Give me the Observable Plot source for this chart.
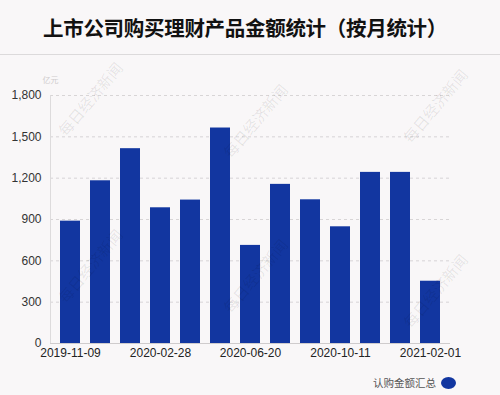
<!DOCTYPE html>
<html>
<head>
<meta charset="utf-8">
<script src="https://cdn.jsdelivr.net/npm/d3@7"></script>
<script src="https://cdn.jsdelivr.net/npm/@observablehq/plot@0.6"></script>
<style>
  html, body { margin: 0; padding: 0; background: #f9f7f8; }
  #wrap { position: relative; width: 500px; height: 395px; overflow: hidden; background: #f9f7f8; font-family: "Liberation Sans", Arial, sans-serif; }
  #title { height: 54px; border-bottom: 1px solid #dcdadb; box-sizing: content-box; text-align: center; font-family: "Noto Sans CJK SC", sans-serif; font-weight: bold; font-size: 20.5px; line-height: 54px; color: #111; letter-spacing: -0.3px; padding-right: 10px; }
  #legend { position: absolute; left: 0; top: 370px; width: 500px; height: 25px; }
  #legend .lbl { position: absolute; left: 373px; top: 4px; font-family: "Noto Sans CJK SC", sans-serif; font-size: 10.5px; color: #555; line-height: 18px; }
  #legend .sw { position: absolute; left: 441px; top: 7px; width: 15px; height: 12px; border-radius: 50%; background: #1236a0; }
  .wm { position: absolute; font-family: "Noto Sans CJK SC", sans-serif; font-size: 15px; color: rgba(0,0,0,0.09); transform: rotate(-50deg); transform-origin: center; white-space: nowrap; pointer-events: none; }
</style>
</head>
<body>
<div id="wrap">
  <div id="title">上市公司购买理财产品金额统计（按月统计）</div>
  <div id="chart"></div>
  <div id="legend"><span class="lbl">认购金额汇总</span><span class="sw"></span></div>
</div>
<script>
// Data (亿元)
const periods = ["2019-11-09", "", "", "2020-02-28", "", "", "2020-06-20", "", "", "2020-10-11", "", "", "2021-02-01"];
const amounts = [888, 1181, 1414, 985, 1041, 1564, 712, 1155, 1043, 847, 1242, 1242, 452];
const yTicks = [0, 300, 600, 900, 1200, 1500, 1800];
const labeledIdx = [0, 3, 6, 9, 12];
const seriesName = "认购金额汇总";
const unitLabel = "亿元";
const watermark = "每日经济新闻";

const data = amounts.map((v, i) => ({i, v}));

const chart = Plot.plot({
  width: 500,
  height: 315,
  marginTop: 40,
  marginBottom: 27,
  marginLeft: 50,
  marginRight: 50,
  style: {background: "transparent", fontFamily: "'Liberation Sans', Arial, sans-serif", fontSize: "11px", color: "#222"},
  x: {type: "band", domain: d3.range(amounts.length), paddingInner: 0.35, paddingOuter: 0.175, label: null},
  y: {domain: [0, 1800], label: null},
  marks: [
    Plot.gridY(yTicks.filter(d => d > 0), {stroke: "#cfcccd", strokeOpacity: 1, strokeDasharray: "3,3", strokeWidth: 0.8}),
    Plot.frame({anchor: "left", stroke: "#dddbdc"}),
    Plot.barY(data, {x: "i", y: "v", fill: "#1236a0"}),
    Plot.ruleY([0], {stroke: "#cfcccd"}),
    Plot.axisY({ticks: yTicks, tickSize: 0, tickPadding: 9, fill: "#333", fontSize: 12, label: null}),
    Plot.axisX({ticks: labeledIdx, tickSize: 0, tickPadding: 5, tickFormat: i => periods[i], fill: "#222", fontSize: 12, label: null}),
    Plot.text([unitLabel], {frameAnchor: "top-left", dx: -8, dy: -18, fill: "#cfcccd", fontSize: 8, fontFamily: "'Noto Sans CJK SC', sans-serif"})
  ]
});
document.getElementById("chart").appendChild(chart);

// faint watermarks
const wmPos = [[45, 88], [210, 110], [390, 95], [45, 255], [210, 265], [390, 280]];
const wrap = document.getElementById("wrap");
wmPos.forEach(([x, y]) => {
  const s = document.createElement("span");
  s.className = "wm";
  s.textContent = watermark;
  s.style.left = x + "px";
  s.style.top = y + "px";
  wrap.appendChild(s);
});
</script>
</body>
</html>
